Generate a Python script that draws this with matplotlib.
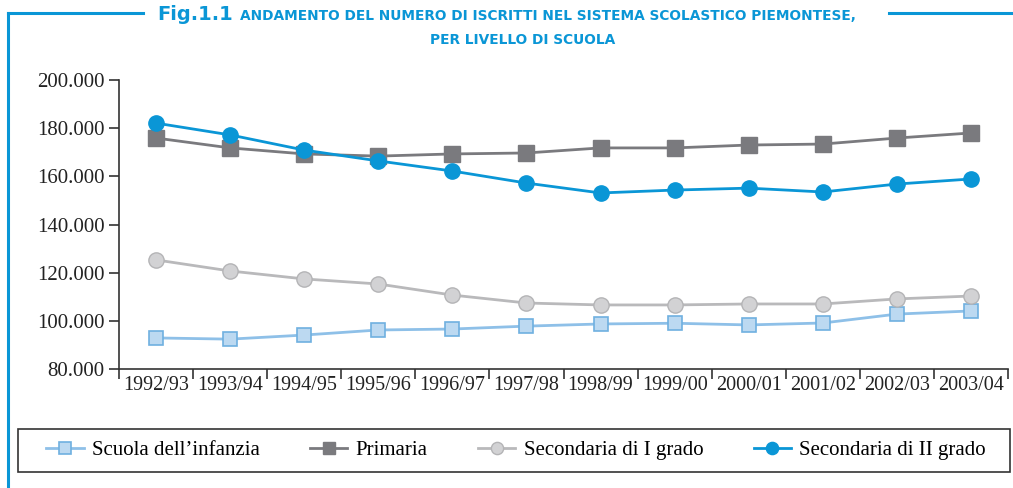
import matplotlib.pyplot as plt
from matplotlib.lines import Line2D
from matplotlib.patches import Rectangle
from matplotlib.ticker import FuncFormatter, FixedLocator

anni = ['1992/93', '1993/94', '1994/95', '1995/96', '1996/97', '1997/98',
        '1998/99', '1999/00', '2000/01', '2001/02', '2002/03', '2003/04']

infanzia = [92900, 92400, 94100, 96200, 96600, 97800, 98700, 99000, 98300, 99100, 102800, 104100]
primaria = [175900, 171800, 169300, 168400, 169300, 169700, 171800, 171800, 173000, 173400, 175900, 178000]
sec_1 = [125300, 120700, 117400, 115300, 110700, 107400, 106600, 106600, 107000, 107000, 109100, 110300]
sec_2 = [182100, 177200, 170900, 166400, 162200, 157200, 153100, 154300, 155100, 153500, 156800, 158900]

blu = '#0a96d6'
serif = 'Liberation Serif'

fig = plt.figure(figsize=(10.13, 4.88), dpi=100)
ax = fig.add_axes([119 / 1013, 1 - 369 / 488, (1008 - 119) / 1013, (369 - 80) / 488])

x = list(range(len(anni)))
ax.plot(x, infanzia, color='#8ec0e8', lw=2, marker='s', ms=10,
        mfc='#bcd9f1', mec='#6fb0e0', mew=1.2, label='Scuola dell’infanzia')
ax.plot(x, primaria, color='#7a7a7e', lw=2, marker='s', ms=11,
        mfc='#7a7a7e', mec='#7a7a7e', label='Primaria')
ax.plot(x, sec_1, color='#b9b9bb', lw=2, marker='o', ms=11,
        mfc='#d2d2d4', mec='#b4b4b6', mew=1, label='Secondaria di I grado')
ax.plot(x, sec_2, color=blu, lw=2, marker='o', ms=11,
        mfc=blu, mec=blu, label='Secondaria di II grado')

ax.set_xlim(-0.5, len(anni) - 0.5)
ax.set_ylim(80000, 200000)
ax.set_yticks(range(80000, 200001, 20000))
ax.yaxis.set_major_formatter(FuncFormatter(lambda v, p: f'{v:,.0f}'.replace(',', '.')))

# ticks at the boundaries, labels at the centres
ax.xaxis.set_major_locator(FixedLocator([i - 0.5 for i in range(len(anni) + 1)]))
ax.xaxis.set_major_formatter(FuncFormatter(lambda v, p: ''))
ax.xaxis.set_minor_locator(FixedLocator(x))
ax.set_xticklabels(anni, minor=True)
ax.tick_params(axis='x', which='minor', length=0, pad=5)
ax.tick_params(axis='both', which='major', direction='out', length=7, width=1.2, color='#333333')

for lab in ax.get_xticklabels(minor=True):
    lab.set_fontfamily(serif)
    lab.set_fontsize(14.5)
    lab.set_color('#222222')
for lab in ax.get_yticklabels():
    lab.set_fontfamily(serif)
    lab.set_fontsize(15)
    lab.set_color('#222222')

for s in ['top', 'right']:
    ax.spines[s].set_visible(False)
for s in ['left', 'bottom']:
    ax.spines[s].set_color('#333333')
    ax.spines[s].set_linewidth(1.2)

# legend entries, with the box drawn separately
fig.add_artist(Rectangle((18 / 1013, 1 - 472 / 488), 992 / 1013, 43 / 488,
                         transform=fig.transFigure, fill=False, ec='#333333', lw=1.2))
fig.legend(loc='center', bbox_to_anchor=(46 / 1013, 1 - 472 / 488, 940 / 1013, 43 / 488),
           mode='expand', ncol=4, frameon=False,
           prop={'family': serif, 'size': 15}, handlelength=1.8, markerscale=0.8,
           handletextpad=0.4, borderpad=0, borderaxespad=0)

# blue frame around the figure
fy = 1 - 13 / 488
fig.add_artist(Line2D([8 / 1013, 8 / 1013], [0, fy], color=blu, lw=2.2))
fig.add_artist(Line2D([8 / 1013, 143 / 1013], [fy, fy], color=blu, lw=2.2))
fig.add_artist(Line2D([889 / 1013, 1], [fy, fy], color=blu, lw=2.2))

ty = 1 - 15 / 488
fig.text(233 / 1013, ty, 'Fig.1.1', ha='right', va='center', color=blu,
         fontsize=14, fontweight='bold')
fig.text(240 / 1013, ty - 0.002, 'ANDAMENTO DEL NUMERO DI ISCRITTI NEL SISTEMA SCOLASTICO PIEMONTESE,',
         ha='left', va='center', color=blu, fontsize=9.9, fontweight='bold')
fig.text(523 / 1013, 1 - 40 / 488, 'PER LIVELLO DI SCUOLA', ha='center', va='center',
         color=blu, fontsize=9.9, fontweight='bold')

fig.savefig('out.png', dpi=100)
